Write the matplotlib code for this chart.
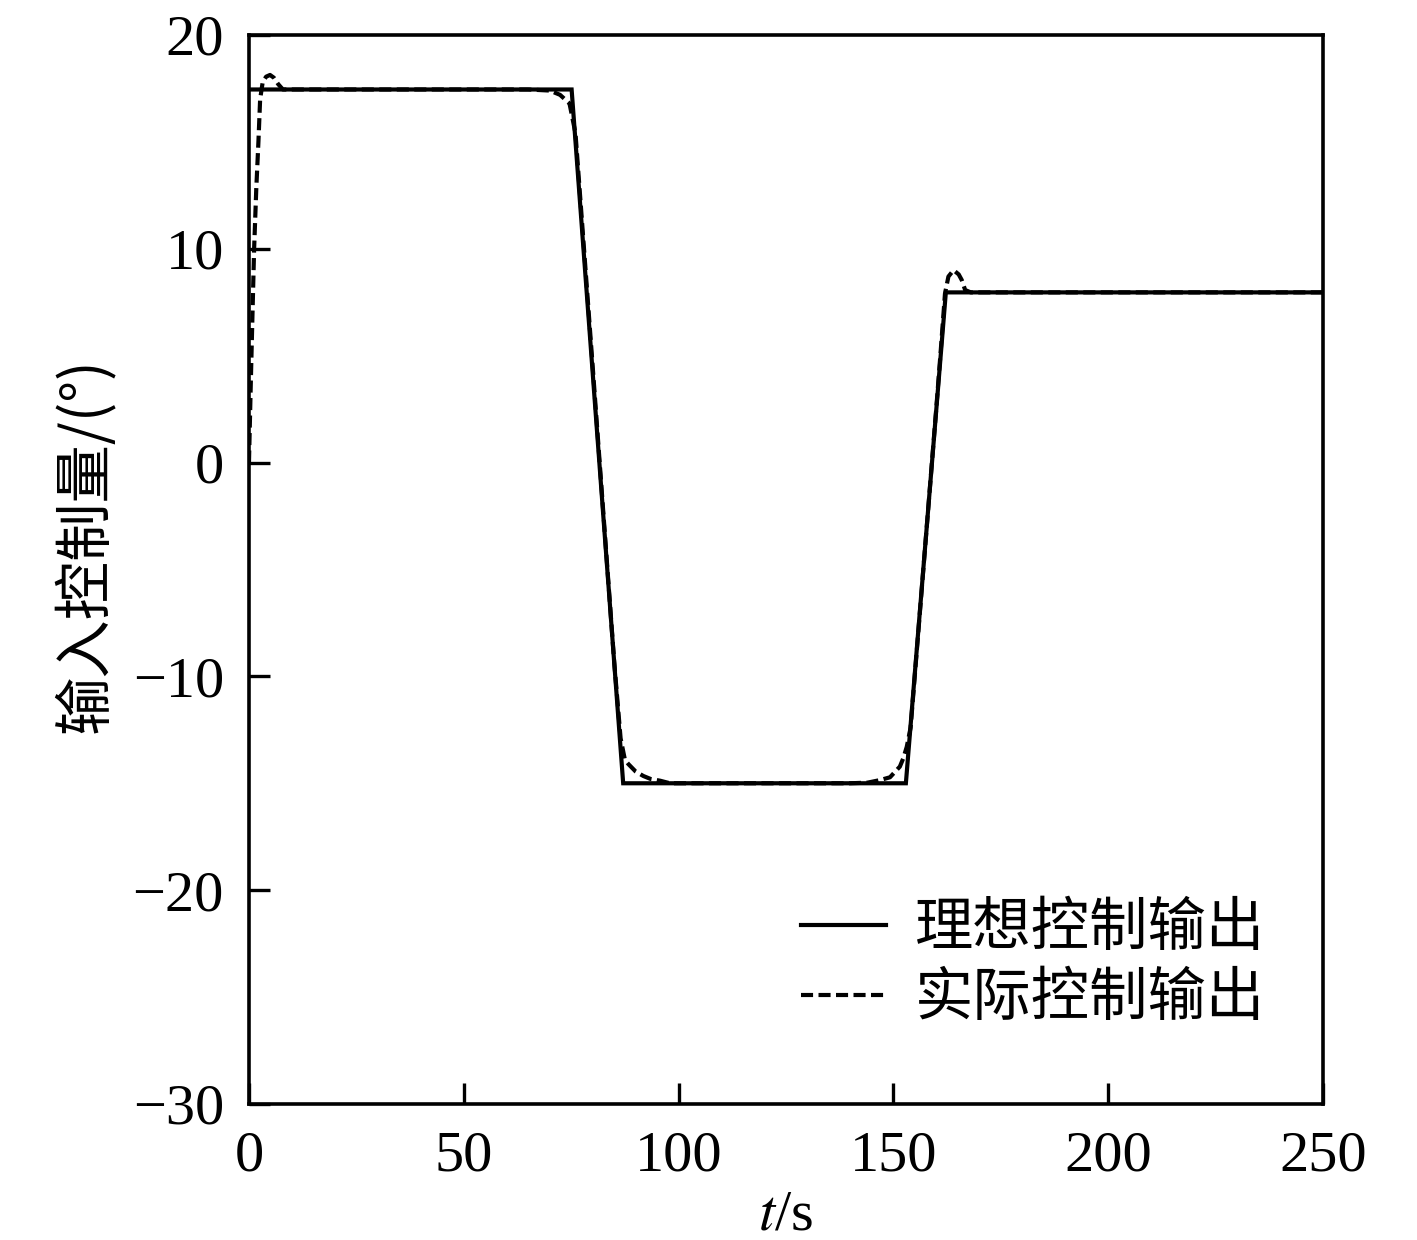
import matplotlib
matplotlib.use("Agg")
import matplotlib.pyplot as plt

# ideal control output
t_ideal = [0, 75.1, 87.1, 152.9, 162.2, 250]
y_ideal = [17.45, 17.45, -15.0, -15.0, 7.96, 7.96]

# actual control output
t_actual = [0, 0.4, 0.8, 1.2, 1.7, 2.2, 2.6, 3.2, 4.0, 4.9, 5.8, 6.8, 7.9,
            40, 65, 70, 72.4, 74.6, 76.0, 80, 85, 86.5, 87.5, 88.3, 90, 91.8, 93.5, 95.7, 98,
            130, 140, 144, 146.9, 149.2, 151.5, 152.3, 153.1, 154, 158, 160, 161, 162,
            162.8, 164, 165.2, 165.9, 166.7, 168, 250]
y_actual = [0, 3.5, 6.8, 10.0, 12.8, 15.0, 17.0, 17.8, 18.05, 18.13, 18.0, 17.7, 17.45,
            17.45, 17.45, 17.4, 17.2, 16.8, 15.4, 4.5, -9.3, -12.9, -13.9, -14.1, -14.45, -14.66, -14.8, -14.88, -15.0,
            -15.0, -15.0, -14.97, -14.85, -14.72, -14.22, -13.83, -13.3, -12.4, -2.4, 2.6, 5.2, 7.9,
            8.7, 9.0, 8.8, 8.54, 8.07, 7.96, 7.96]

xticks = [0, 50, 100, 150, 200, 250]
yticks = [-30, -20, -10, 0, 10, 20]

plt.rcParams['mathtext.fontset'] = 'stix'
serif = ['Liberation Serif', 'DejaVu Serif']
cjk = ['Noto Sans CJK SC', 'DejaVu Sans']

fig = plt.figure(figsize=(14.17, 12.40), dpi=100)
ax = fig.add_axes([0.1757, 0.1097, 0.7580, 0.8621])

ax.plot(t_ideal, y_ideal, color='black', lw=3.0, solid_joinstyle='miter', label='理想控制输出')
ax.plot(t_actual, y_actual, color='black', lw=3.0, dashes=(2.9, 1.3), label='实际控制输出')

ax.set_xlim(0, 250)
ax.set_ylim(-30, 20)
ax.set_xticks(xticks)
ax.set_yticks(yticks)
for s in ax.spines.values():
    s.set_linewidth(2.6)
ax.tick_params(axis='both', direction='in', length=15, width=2.4, labelsize=42)
ax.tick_params(axis='x', pad=19)
ax.tick_params(axis='y', pad=18)
for lab in ax.get_xticklabels() + ax.get_yticklabels():
    lab.set_fontfamily(serif)

ax.set_xlabel('$t$/s', fontsize=42, family=serif, labelpad=5)
ax.set_ylabel('输入控制量/(°)', fontsize=42, family=cjk)
ax.yaxis.set_label_coords(-0.124, 0.523)

leg = ax.legend(loc='lower right', bbox_to_anchor=(0.946, 0.07), frameon=False,
                prop={'family': cjk, 'size': 42}, handlelength=1.45, handletextpad=0.5,
                borderpad=0, borderaxespad=0, labelspacing=0.15)

fig.savefig('out.png', dpi=100)
